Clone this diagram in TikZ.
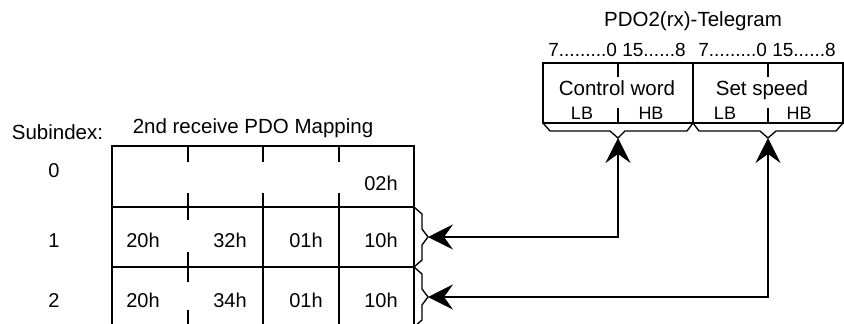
\documentclass[tikz,border=0pt]{standalone}
\usepackage{fontspec}
\setmainfont{Liberation Sans}
\usetikzlibrary{arrows.meta}
\begin{document}
\begin{tikzpicture}[x=1pt,y=-1pt,
  ln/.style={line width=1.35pt},
  lbl/.style={inner sep=0pt, anchor=base, font=\fontsize{20.5}{24}\selectfont},
  num/.style={inner sep=0pt, anchor=base, font=\fontsize{20}{24}\selectfont},
  sml/.style={inner sep=0pt, anchor=base, font=\fontsize{18}{20}\selectfont},
  rng/.style={inner sep=0pt, anchor=base, font=\fontsize{19}{22}\selectfont},
  conn/.style={line width=1.35pt,
    {Stealth[length=25pt,width=25pt,inset=9pt]}-{Stealth[length=25pt,width=25pt,inset=9pt]}}]
\useasboundingbox (0,0) rectangle (844,324);
\clip (0,0) rectangle (844,324);

% ---------- telegram ----------
\node[lbl] (ttitle) at (693,27) {PDO2(rx)-Telegram};
\node[rng] (rng1) at (617,56) {7.........0 15......8};
\node[rng] (rng2) at (767,56) {7.........0 15......8};
\draw[ln] (543,63) rectangle (843,123);
\draw[ln] (693,63) -- (693,123);
\foreach \x in {618,768}{
  \draw[ln] (\x,63) -- (\x,77);
  \draw[ln] (\x,108) -- (\x,123);
}
\node[lbl] (cw) at (617,95) {Control word};
\node[lbl] (ss) at (762,95) {Set speed};
\node[sml] (lb1) at (582,119) {LB};
\node[sml] (hb1) at (651,119) {HB};
\node[sml] (lb2) at (725,119) {LB};
\node[sml] (hb2) at (799,119) {HB};
\draw[ln] (543,123) -- (550,131) -- (610,131) -- (618,138) -- (625,131) -- (687,131) -- (693,123);
\draw[ln] (693,123) -- (699,131) -- (760,131) -- (768,138) -- (776,131) -- (836,131) -- (843,123);
\coordinate (t1) at (618,138);
\coordinate (t2) at (768,138);

% ---------- mapping table ----------
\node[lbl] (sub) at (57.5,139) {Subindex:};
\node[lbl] (mtitle) at (253,133) {2nd receive PDO Mapping};
\node[num] (i0) at (54,177) {0};
\node[num] (i1) at (54,247) {1};
\node[num] (i2) at (54,307) {2};

\draw[ln] (112,324) -- (112,146) -- (414,146) -- (414,324);
\draw[ln] (112,207) -- (414,207);
\draw[ln] (112,267) -- (414,267);
\foreach \x in {188,263,339}{
  \draw[ln] (\x,146) -- (\x,162);
  \draw[ln] (\x,193) -- (\x,207);
}
\draw[ln] (188,207) -- (188,220);
\draw[ln] (188,252) -- (188,282);
\draw[ln] (188,310) -- (188,324);
\draw[ln] (263,207) -- (263,324);
\draw[ln] (339,207) -- (339,324);

\node[num] (c02) at (381,190) {02h};
\node[num] (a1) at (143,247) {20h};
\node[num] (b1) at (230,247) {32h};
\node[num] (c1) at (306,247) {01h};
\node[num] (d1) at (381,247) {10h};
\node[num] (a2) at (143,307) {20h};
\node[num] (b2) at (230,307) {34h};
\node[num] (c2) at (306,307) {01h};
\node[num] (d2) at (381,307) {10h};

\draw[ln] (414,207) -- (422,214) -- (422,229) -- (428,237) -- (422,245) -- (422,260) -- (414,267);
\draw[ln] (414,267) -- (422,274) -- (422,289) -- (428,297) -- (422,305) -- (422,320) -- (414,327);
\coordinate (r1) at (428,237);
\coordinate (r2) at (428,297);

% ---------- connectors ----------
\draw[conn] (t1) |- (r1);
\draw[conn] (t2) |- (r2);
\end{tikzpicture}
\end{document}
